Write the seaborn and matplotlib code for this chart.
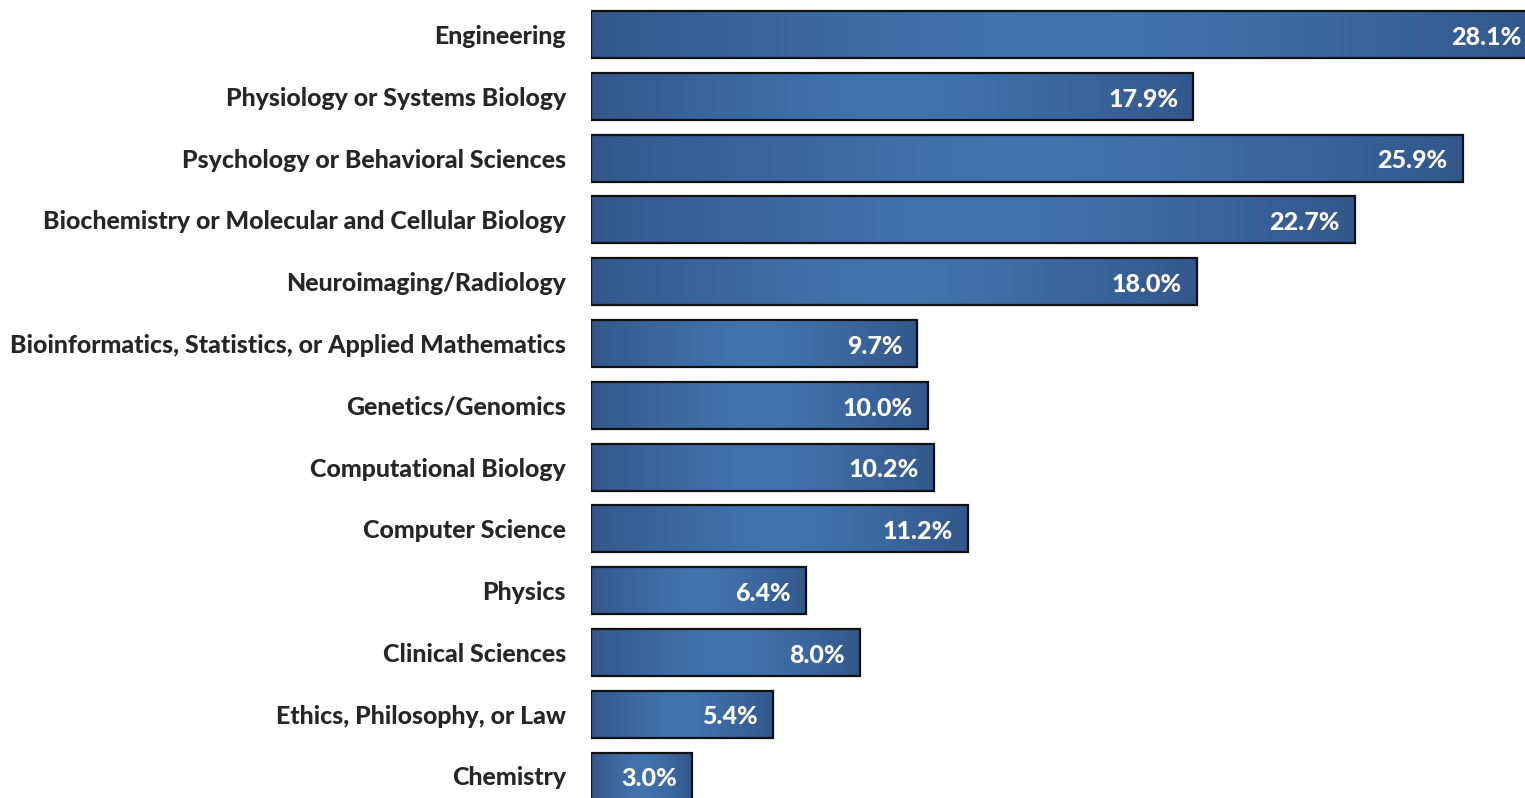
import numpy as np
import pandas as pd
import matplotlib
matplotlib.use("Agg")
import matplotlib.pyplot as plt
import seaborn as sns
from matplotlib.colors import to_rgb

# data
fields = [
    "Engineering",
    "Physiology or Systems Biology",
    "Psychology or Behavioral Sciences",
    "Biochemistry or Molecular and Cellular Biology",
    "Neuroimaging/Radiology",
    "Bioinformatics, Statistics, or Applied Mathematics",
    "Genetics/Genomics",
    "Computational Biology",
    "Computer Science",
    "Physics",
    "Clinical Sciences",
    "Ethics, Philosophy, or Law",
    "Chemistry",
]
percent = [28.1, 17.9, 25.9, 22.7, 18.0, 9.7, 10.0, 10.2, 11.2, 6.4, 8.0, 5.4, 3.0]

df = pd.DataFrame({"Field": fields, "Percent": percent})

sns.set_style("white")
plt.rcParams["font.family"] = ["Lato", "DejaVu Sans"]

fig = plt.figure(figsize=(15.25, 7.98), dpi=100)
ax = fig.add_axes([591 / 1525, 0, 1 - 591 / 1525, 1])

sns.barplot(data=df, x="Percent", y="Field", orient="h", color="#3a66a0",
            width=0.76, edgecolor="#111111", linewidth=1.6, ax=ax)

# horizontal gradient inside each bar: dark edges, lighter middle
dark = np.array(to_rgb("#33578a"))
light = np.array(to_rgb("#4273ae"))
t = np.abs(np.linspace(-1, 1, 256)) ** 1.5
grad = (light[None, :] * (1 - t[:, None]) + dark[None, :] * t[:, None])[None, :, :]

for patch in ax.patches:
    x0, y0 = patch.get_x(), patch.get_y()
    w, h = patch.get_width(), patch.get_height()
    patch.set_facecolor("none")
    patch.set_zorder(3)
    im = ax.imshow(grad, extent=(x0, x0 + w, y0 + h, y0), aspect="auto",
                   zorder=2, interpolation="bilinear")
    im.set_clip_path(patch)

for i, v in enumerate(percent):
    ax.annotate(f"{v:.1f}%", xy=(v, i), xytext=(-11, -2), textcoords="offset points",
                ha="right", va="center", color="white", fontsize=18,
                fontweight="black", zorder=4, annotation_clip=False)

ax.set_xlim(0, 934 / 33.65)
ax.set_ylim(12 + 22 / 61.77, -34.5 / 61.77)
ax.set_xlabel("")
ax.set_ylabel("")
ax.set_xticks([])
ax.tick_params(axis="y", length=0, pad=18, labelsize=17.9)
for lab in ax.get_yticklabels():
    lab.set_fontweight("black")
sns.despine(ax=ax, left=True, bottom=True, top=True, right=True)

fig.savefig("out.png", dpi=100)
